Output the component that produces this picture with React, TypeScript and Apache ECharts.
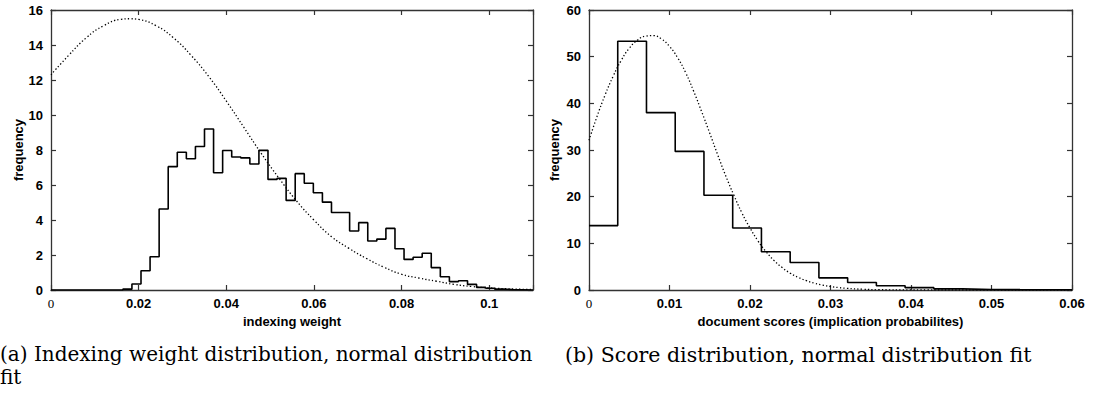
import React, { useEffect, useRef } from "react";
import * as echarts from "echarts";

// ---------- Left panel: indexing weight histogram ----------
const leftBinStart = 0.0164;
const leftBinWidth = 0.00207;
const leftCounts = [
  0.05, 0.34, 1.1, 1.9, 4.63, 7.05, 7.87, 7.5, 8.2, 9.2, 6.7, 7.97, 7.6, 7.55,
  7.2, 7.98, 6.32, 6.38, 5.12, 6.65, 6.1, 5.56, 5.02, 4.43, 4.43, 3.37, 3.85,
  2.8, 2.91, 3.52, 2.36, 1.75, 1.87, 2.1, 1.28, 0.76, 0.48, 0.53, 0.32, 0.15,
  0.1, 0.05, 0.02,
];
const leftFitX = [
  0, 0.004, 0.008, 0.012, 0.016, 0.018, 0.02, 0.024, 0.028, 0.032, 0.036, 0.04,
  0.044, 0.048, 0.052, 0.056, 0.06, 0.064, 0.068, 0.072, 0.076, 0.08, 0.084,
  0.088, 0.092, 0.096, 0.1, 0.105, 0.11,
];
const leftFitY = [
  12.3, 13.4, 14.4, 15.1, 15.47, 15.5, 15.46, 15.1, 14.4, 13.4, 12.2, 10.8, 9.3,
  7.8, 6.4, 5.1, 4.0, 3.05, 2.38, 1.8, 1.3, 0.9, 0.68, 0.5, 0.32, 0.2, 0.12,
  0.06, 0.03,
];
const leftXTicks = { min: 0, max: 0.11, interval: 0.02 };
const leftYTicks = { min: 0, max: 16, interval: 2 };

// ---------- Right panel: document score histogram ----------
const rightBinStart = 0;
const rightBinWidth = 0.00357;
const rightCounts = [
  13.8, 53.3, 38.0, 29.7, 20.3, 13.3, 8.2, 5.9, 2.6, 1.6, 0.9, 0.5, 0.25, 0.12,
  0.08, 0.06, 0.05,
];
const rightFitX = [
  0, 0.001, 0.002, 0.003, 0.004, 0.005, 0.006, 0.007, 0.008, 0.009, 0.01, 0.011,
  0.012, 0.013, 0.014, 0.015, 0.016, 0.017, 0.018, 0.019, 0.02, 0.021, 0.022,
  0.023, 0.024, 0.025, 0.026, 0.027, 0.028, 0.029, 0.03, 0.031, 0.032, 0.034,
  0.036, 0.04, 0.05, 0.06,
];
const rightFitY = [
  32.1, 37.2, 41.8, 45.8, 49.2, 51.8, 53.5, 54.4, 54.5, 53.8, 52.2, 49.8, 46.6,
  42.6, 38.2, 33.6, 28.9, 24.4, 20.3, 16.5, 13.3, 10.5, 8.2, 6.3, 4.8, 3.6, 2.7,
  2.0, 1.45, 1.05, 0.75, 0.52, 0.36, 0.16, 0.07, 0.01, 0, 0,
];
const rightXTicks = { min: 0, max: 0.06, interval: 0.01 };
const rightYTicks = { min: 0, max: 60, interval: 10 };

const leftXName = "indexing weight";
const rightXName = "document scores (implication probabilites)";
const yName = "frequency";
const captionA1 = "(a) Indexing weight distribution, normal distribution";
const captionA2 = "fit";
const captionB = "(b) Score distribution, normal distribution fit";

function histPoints(start: number, width: number, counts: number[], xEnd: number) {
  const pts: number[][] = [];
  if (start > 0) pts.push([0, 0]);
  counts.forEach((v, i) => pts.push([start + i * width, v]));
  const last = start + counts.length * width;
  if (last < xEnd) {
    pts.push([last, 0]);
    pts.push([xEnd, 0]);
  } else {
    pts.push([xEnd, counts[counts.length - 1]]);
  }
  return pts;
}

const AXIS_COLOR = "#333";
const LABEL_FONT = '"Liberation Sans", Arial, sans-serif';
const CAPTION_FONT = '"DejaVu Serif", serif';

function xAxes(grid: number, t: { min: number; max: number; interval: number }, name: string) {
  const common = {
    type: "value" as const,
    gridIndex: grid,
    min: t.min,
    max: t.max,
    interval: t.interval,
    splitLine: { show: false },
    axisLine: { show: true, onZero: false, lineStyle: { color: AXIS_COLOR, width: 1.3 } },
    axisTick: { show: true, inside: true, length: 5, lineStyle: { color: AXIS_COLOR, width: 1.2 } },
  };
  return [
    {
      ...common,
      position: "bottom",
      name,
      nameLocation: "middle",
      nameGap: 25,
      nameTextStyle: { fontFamily: LABEL_FONT, fontWeight: "bold", fontSize: 13, color: "#000" },
      axisLabel: {
        show: true,
        margin: 7,
        color: "#000",
        fontFamily: LABEL_FONT,
        fontWeight: "bold",
        fontSize: 13,
        formatter: (v: number) => {
          if (Math.abs(v / t.interval - Math.round(v / t.interval)) > 1e-6) return "";
          if (v === 0) return "{z|0}";
          return String(+v.toFixed(4));
        },
        rich: {
          z: { fontFamily: '"Liberation Serif", serif', fontWeight: "normal", fontSize: 13, color: "#000" },
        },
      },
    },
    {
      ...common,
      position: "top",
      axisLabel: { show: false },
    },
  ];
}

function yAxes(grid: number, t: { min: number; max: number; interval: number }, gap: number) {
  const common = {
    type: "value" as const,
    gridIndex: grid,
    min: t.min,
    max: t.max,
    interval: t.interval,
    splitLine: { show: false },
    axisLine: { show: true, onZero: false, lineStyle: { color: AXIS_COLOR, width: 1.3 } },
    axisTick: { show: true, inside: true, length: 5, lineStyle: { color: AXIS_COLOR, width: 1.2 } },
  };
  return [
    {
      ...common,
      position: "left",
      name: yName,
      nameLocation: "middle",
      nameGap: gap,
      nameTextStyle: { fontFamily: LABEL_FONT, fontWeight: "bold", fontSize: 13, color: "#000" },
      axisLabel: {
        show: true,
        margin: 8,
        color: "#000",
        fontFamily: LABEL_FONT,
        fontWeight: "bold",
        fontSize: 13,
      },
    },
    {
      ...common,
      position: "right",
      axisLabel: { show: false },
    },
  ];
}

const histStyle = { color: "#000", width: 1.6 };
const fitStyle = { color: "#000", width: 1.3, type: [1.3, 2.2] as any };

const option: any = {
  animation: false,
  backgroundColor: "#fff",
  grid: [
    { left: 51, top: 10, width: 482, height: 280, show: false },
    { left: 589, top: 10, width: 483, height: 280, show: false },
  ],
  xAxis: [...xAxes(0, leftXTicks, leftXName), ...xAxes(1, rightXTicks, rightXName)],
  yAxis: [...yAxes(0, leftYTicks, 26), ...yAxes(1, rightYTicks, 28)],
  series: [
    {
      type: "line",
      xAxisIndex: 0,
      yAxisIndex: 0,
      step: "end",
      symbol: "none",
      lineStyle: histStyle,
      data: histPoints(leftBinStart, leftBinWidth, leftCounts, leftXTicks.max),
      clip: true,
    },
    {
      type: "line",
      xAxisIndex: 0,
      yAxisIndex: 0,
      smooth: true,
      symbol: "none",
      lineStyle: fitStyle,
      data: leftFitX.map((x, i) => [x, leftFitY[i]]),
    },
    {
      type: "line",
      xAxisIndex: 2,
      yAxisIndex: 2,
      step: "end",
      symbol: "none",
      lineStyle: histStyle,
      data: histPoints(rightBinStart, rightBinWidth, rightCounts, rightXTicks.max),
      clip: true,
    },
    {
      type: "line",
      xAxisIndex: 2,
      yAxisIndex: 2,
      smooth: true,
      symbol: "none",
      lineStyle: fitStyle,
      data: rightFitX.map((x, i) => [x, rightFitY[i]]),
    },
  ],
  graphic: [
    {
      type: "text",
      left: 0,
      top: 344,
      style: { text: captionA1, fontFamily: CAPTION_FONT, fontSize: 20, fill: "#000" },
    },
    {
      type: "text",
      left: 0,
      top: 367,
      style: { text: captionA2, fontFamily: CAPTION_FONT, fontSize: 20, fill: "#000" },
    },
    {
      type: "text",
      left: 565,
      top: 344,
      style: { text: captionB, fontFamily: CAPTION_FONT, fontSize: 20.5, fill: "#000" },
    },
  ],
};

export default function App() {
  const ref = useRef<HTMLDivElement>(null);
  useEffect(() => {
    document.body.style.margin = "0";
    const chart = echarts.init(ref.current as HTMLDivElement, null, { renderer: "svg" });
    chart.setOption(option);
    return () => chart.dispose();
  }, []);
  return (
    <div
      ref={ref}
      style={{ position: "absolute", left: 0, top: 0, width: 1095, height: 394 }}
    />
  );
}
